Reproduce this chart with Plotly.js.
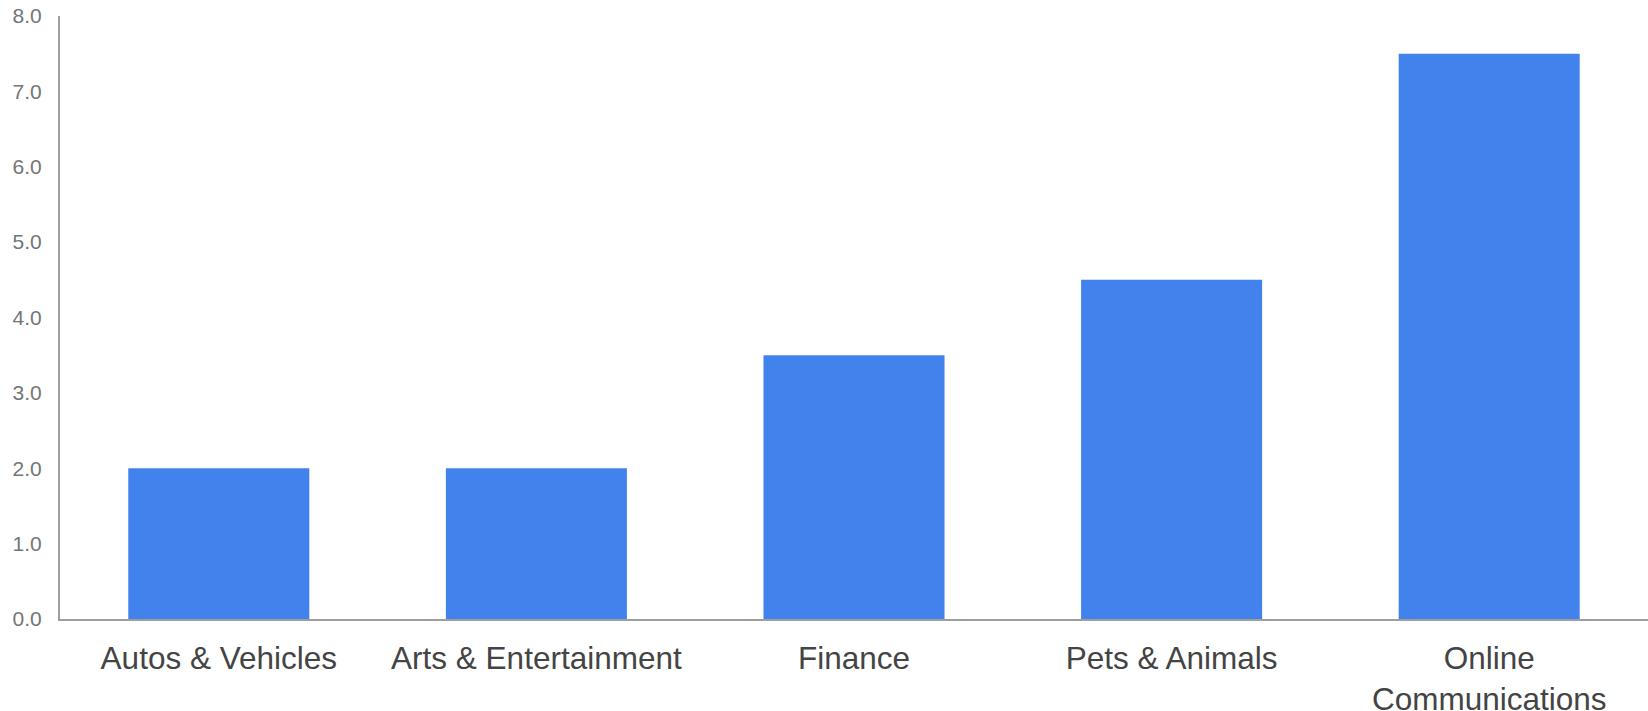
<!DOCTYPE html>
<html><head><meta charset="utf-8">
<script src="https://cdn.plot.ly/plotly-3.0.1.min.js"></script>
<style>html,body{margin:0;padding:0;background:#fff}#chart{width:1648px;height:711px}</style>
</head><body><div id="chart"></div>
<script>
const categories = ["Autos &amp; Vehicles", "Arts &amp; Entertainment", "Finance", "Pets &amp; Animals", "Online<br>Communications"];
const values = [2.0, 2.0, 3.5, 4.5, 7.5];
const yTickValues = [0, 1, 2, 3, 4, 5, 6, 7, 8];

const trace = {
  type: 'bar',
  x: categories,
  y: values,
  marker: {color: '#4282EC'},
  hoverinfo: 'x+y'
};
const layout = {
  width: 1648, height: 711,
  margin: {l: 60, r: 0, t: 16, b: 92, pad: 0},
  paper_bgcolor: '#fff', plot_bgcolor: '#fff',
  font: {family: 'Arial, "Liberation Sans", sans-serif'},
  showlegend: false,
  bargap: 0.43,
  xaxis: {
    showgrid: false, zeroline: false,
    showline: true, linecolor: '#9e9e9e', linewidth: 2,
    ticks: '', ticklabelstandoff: 10,
    tickfont: {size: 31.5, color: '#444444'}
  },
  yaxis: {
    range: [0, 8], tickvals: yTickValues, tickformat: '.1f',
    showgrid: false, zeroline: false,
    showline: true, linecolor: '#9e9e9e', linewidth: 2,
    ticks: '', ticklabelstandoff: 12,
    tickfont: {size: 21, color: '#757575'}
  }
};
Plotly.newPlot('chart', [trace], layout, {displayModeBar: false, staticPlot: true});
</script>
</body></html>
